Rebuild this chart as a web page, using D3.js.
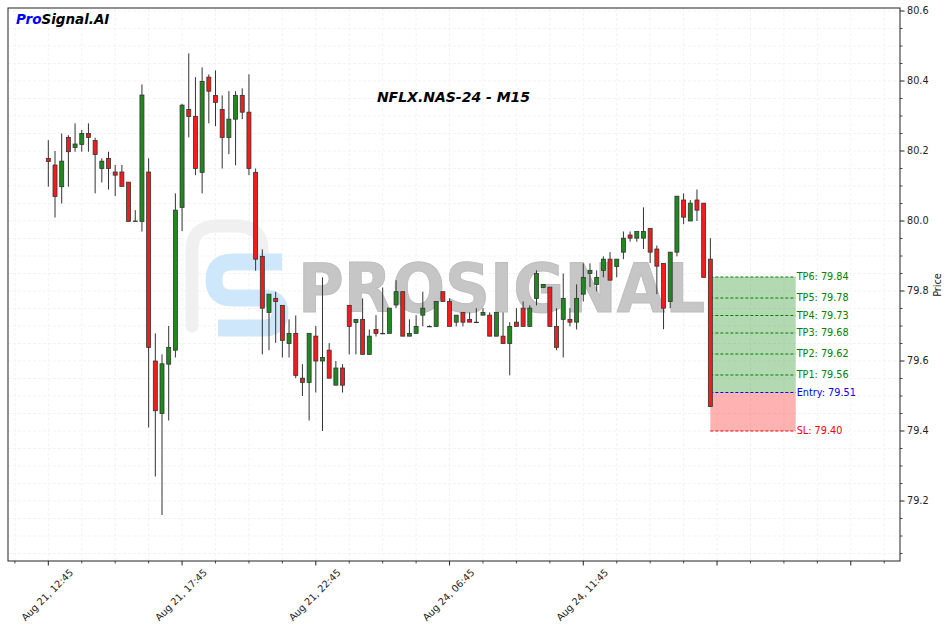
<!DOCTYPE html>
<html>
<head>
<meta charset="utf-8">
<script src="https://cdn.jsdelivr.net/npm/d3@7"></script>
<style>
  html, body { margin: 0; padding: 0; background: #fff; }
  svg { display: block; font-family: "DejaVu Sans", sans-serif; }
</style>
</head>
<body>
<svg id="chart" width="950" height="632"></svg>
<script>
// ---------------- DATA ----------------
const opens  = [80.179,80.160,80.098,80.239,80.210,80.219,80.250,80.230,80.150,80.179,
                80.140,80.140,80.111,80.000,79.999,80.140,79.600,79.450,79.591,79.631,
                80.039,80.319,80.299,80.139,80.411,80.359,80.319,80.239,80.291,80.359,
                80.311,80.139,79.899,79.739,79.779,79.759,79.650,79.679,79.551,79.539,
                79.671,79.600,79.631,79.531,79.580,79.759,79.710,79.719,79.619,79.690,
                79.679,79.679,79.760,79.798,79.671,79.679,79.731,79.699,79.699,79.798,
                79.770,79.711,79.739,79.719,79.711,79.731,79.731,79.671,79.671,79.650,
                79.711,79.751,79.699,79.779,79.810,79.811,79.699,79.719,79.719,79.711,
                79.791,79.850,79.819,79.859,79.891,79.870,79.911,79.960,79.951,79.951,
                79.979,79.920,79.879,79.770,79.911,80.060,80.000,80.060,80.051,79.891];
const highs  = [80.231,80.200,80.250,80.245,80.279,80.260,80.279,80.238,80.179,80.198,
                80.160,80.160,80.111,80.031,80.390,80.179,79.679,79.619,79.700,80.079,
                80.335,80.479,80.411,80.439,80.419,80.430,80.359,80.371,80.371,80.379,
                80.419,80.150,79.919,79.791,79.798,79.759,79.719,79.730,79.591,79.679,
                79.700,79.839,79.651,79.600,79.591,79.759,79.719,79.779,79.690,79.731,
                79.810,79.751,79.831,79.798,79.719,79.731,79.798,79.702,79.770,79.798,
                79.779,79.731,79.739,79.739,79.751,79.751,79.739,79.739,79.739,79.711,
                79.751,79.770,79.759,79.859,79.819,79.811,79.751,79.850,79.751,79.819,
                79.879,79.879,79.859,79.899,79.911,79.891,79.970,79.970,79.970,80.039,
                79.979,79.930,79.879,79.911,80.071,80.079,80.060,80.090,80.051,79.951];
const lows   = [80.098,80.010,80.050,80.098,80.198,80.198,80.198,80.079,80.110,80.090,
                80.071,80.099,79.999,80.000,79.970,79.410,79.270,79.160,79.430,79.610,
                79.971,80.239,80.131,80.079,80.279,80.271,80.150,80.191,80.159,80.291,
                80.131,79.858,79.619,79.631,79.652,79.610,79.610,79.551,79.500,79.430,
                79.510,79.400,79.551,79.531,79.510,79.619,79.619,79.619,79.619,79.670,
                79.679,79.679,79.751,79.671,79.671,79.679,79.699,79.699,79.699,79.770,
                79.699,79.699,79.699,79.711,79.711,79.731,79.671,79.671,79.650,79.559,
                79.699,79.699,79.699,79.759,79.810,79.699,79.631,79.610,79.699,79.690,
                79.770,79.811,79.799,79.839,79.831,79.839,79.891,79.941,79.941,79.920,
                79.880,79.791,79.691,79.751,79.899,79.991,80.000,80.000,79.839,79.470];
const closes = [80.170,80.070,80.171,80.198,80.220,80.250,80.239,80.190,80.171,80.150,
                80.131,80.099,79.999,80.000,80.360,79.639,79.458,79.592,79.639,80.031,
                80.331,80.299,80.150,80.399,80.371,80.339,80.239,80.291,80.359,80.311,
                80.150,79.891,79.751,79.791,79.770,79.659,79.679,79.559,79.539,79.679,
                79.600,79.610,79.551,79.580,79.531,79.699,79.719,79.619,79.671,79.679,
                79.679,79.751,79.798,79.671,79.679,79.699,79.751,79.699,79.770,79.770,
                79.699,79.731,79.711,79.711,79.711,79.739,79.671,79.739,79.650,79.699,
                79.699,79.699,79.751,79.850,79.819,79.699,79.639,79.779,79.711,79.779,
                79.839,79.859,79.839,79.891,79.831,79.891,79.951,79.951,79.970,79.970,
                79.911,79.871,79.751,79.911,80.071,80.011,80.051,80.031,79.839,79.470];

const xTickIndex  = [0, 20, 40, 60, 80, 100, 120];
const xTickLabels = ["Aug 21, 12:45", "Aug 21, 17:45", "Aug 21, 22:45", "Aug 24, 06:45", "Aug 24, 11:45", "", ""];
const yTicks      = [79.2, 79.4, 79.6, 79.8, 80.0, 80.2, 80.4, 80.6];

const tradeNames  = ["TP6", "TP5", "TP4", "TP3", "TP2", "TP1"];
const tradeLevels = [79.84, 79.78, 79.73, 79.68, 79.62, 79.56];
const entryPrice  = 79.51;
const stopLoss    = 79.40;
const zoneStart   = 99;
const zoneEnd     = 111.76;

const title = "NFLX.NAS-24 - M15";

// ---------------- LAYOUT ----------------
const svg = d3.select("#chart");
const L = 8, R = 900, T = 8, B = 561;
const x = d3.scaleLinear().domain([-6.03, 127.36]).range([L, R]);
const y = d3.scaleLinear().domain([79.0286, 80.6086]).range([B, T]);

svg.append("defs").append("clipPath").attr("id", "plotclip")
  .append("rect").attr("x", L).attr("y", T).attr("width", R - L).attr("height", B - T);

// grid (minor + major)
const gx = d3.range(-5, 127, 5);
const gy = d3.range(79.05, 80.6001, 0.05);
const grid = svg.append("g").attr("clip-path", "url(#plotclip)");
grid.selectAll("line.gx").data(gx).join("line")
  .attr("x1", d => x(d)).attr("x2", d => x(d)).attr("y1", T).attr("y2", B)
  .attr("stroke", "#eeeeee").attr("stroke-width", 0.7).attr("stroke-dasharray", "3,2");
grid.selectAll("line.gy").data(gy).join("line")
  .attr("x1", L).attr("x2", R).attr("y1", d => y(d)).attr("y2", d => y(d))
  .attr("stroke", "#eeeeee").attr("stroke-width", 0.7).attr("stroke-dasharray", "3,2");

// watermark
const wm = svg.append("g");
wm.append("path")
  .attr("d", "M192 326 L192 250 Q192 226 218 226 L236 226 Q262 226 262 250 L262 262")
  .attr("fill", "none").attr("stroke", "#f0f0f0").attr("stroke-width", 13).attr("stroke-linecap", "round");
wm.append("path")
  .attr("d", "M282 262 L232 262 Q214 262 214 280 Q214 298 232 298 L264 298 Q280 298 280 313 Q280 328 264 328 L218 328")
  .attr("fill", "none").attr("stroke", "#cfe7fb").attr("stroke-width", 17);
wm.append("text").attr("x", 298).attr("y", 312)
  .attr("font-size", 68).attr("font-weight", "bold").attr("fill", "#c6c6c6")
  .attr("stroke", "#bdbdbd").attr("stroke-width", 1)
  .attr("textLength", 407).attr("lengthAdjust", "spacingAndGlyphs").text("PROSIGNAL");

// trade zone
const zx0 = x(zoneStart), zx1 = x(zoneEnd);
svg.append("rect").attr("x", zx0).attr("width", zx1 - zx0)
  .attr("y", y(tradeLevels[0])).attr("height", y(entryPrice) - y(tradeLevels[0]))
  .attr("fill", "rgba(0,128,0,0.3)");
svg.append("rect").attr("x", zx0).attr("width", zx1 - zx0)
  .attr("y", y(entryPrice)).attr("height", y(stopLoss) - y(entryPrice))
  .attr("fill", "rgba(255,0,0,0.3)");

const levels = tradeNames.map((n, i) => ({ label: `${n}: ${tradeLevels[i].toFixed(2)}`, v: tradeLevels[i], c: "green" }))
  .concat([{ label: `Entry: ${entryPrice.toFixed(2)}`, v: entryPrice, c: "blue" },
           { label: `SL: ${stopLoss.toFixed(2)}`, v: stopLoss, c: "red" }]);
const lv = svg.append("g");
lv.selectAll("line").data(levels).join("line")
  .attr("x1", zx0).attr("x2", zx1).attr("y1", d => y(d.v)).attr("y2", d => y(d.v))
  .attr("stroke", d => d.c).attr("stroke-width", 1).attr("stroke-dasharray", "3,2");
lv.selectAll("text").data(levels).join("text")
  .attr("x", zx1 + 1).attr("y", d => y(d.v)).attr("dy", "0.35em")
  .attr("font-size", 9.7).attr("fill", d => d.c).text(d => d.label);

// candles
const candles = opens.map((o, i) => ({ i, o, h: highs[i], l: lows[i], c: closes[i] }));
const bw = 4.0;
const cg = svg.append("g").attr("clip-path", "url(#plotclip)");
cg.selectAll("line.wick").data(candles).join("line")
  .attr("x1", d => x(d.i)).attr("x2", d => x(d.i))
  .attr("y1", d => y(d.h)).attr("y2", d => y(d.l))
  .attr("stroke", "#333").attr("stroke-width", 1);
cg.selectAll("rect.body").data(candles).join("rect")
  .attr("x", d => x(d.i) - bw / 2).attr("width", bw)
  .attr("y", d => y(Math.max(d.o, d.c)))
  .attr("height", d => Math.max(0.5, Math.abs(y(d.o) - y(d.c))))
  .attr("fill", d => d.c >= d.o ? "#1e8a1e" : "#f21c1c")
  .attr("stroke", "#333").attr("stroke-width", 0.8);

// frame
svg.append("rect").attr("x", L).attr("y", T).attr("width", R - L).attr("height", B - T)
  .attr("fill", "none").attr("stroke", "#222").attr("stroke-width", 1);

// x axis
const xa = svg.append("g");
xa.selectAll("line.minor").data(gx.filter(d => d % 20 !== 0)).join("line")
  .attr("x1", d => x(d)).attr("x2", d => x(d)).attr("y1", B).attr("y2", B + 2.5)
  .attr("stroke", "#222").attr("stroke-width", 0.8);
xa.selectAll("line.major").data(xTickIndex).join("line")
  .attr("x1", d => x(d)).attr("x2", d => x(d)).attr("y1", B).attr("y2", B + 4.5)
  .attr("stroke", "#222").attr("stroke-width", 1);
xa.selectAll("text").data(xTickIndex.map((d, i) => ({ d, t: xTickLabels[i] })).filter(e => e.t)).join("text")
  .attr("transform", e => `translate(${x(e.d) - 1},${595}) rotate(-45)`)
  .attr("text-anchor", "middle").attr("dy", "0.35em")
  .attr("font-size", 9.7).attr("fill", "#222").text(e => e.t);

// y axis (right)
const ya = svg.append("g");
ya.selectAll("line.minor").data(gy.filter(v => !yTicks.some(t => Math.abs(t - v) < 1e-6))).join("line")
  .attr("x1", R).attr("x2", R + 2.5).attr("y1", d => y(d)).attr("y2", d => y(d))
  .attr("stroke", "#222").attr("stroke-width", 0.8);
ya.selectAll("line.major").data(yTicks).join("line")
  .attr("x1", R).attr("x2", R + 4.5).attr("y1", d => y(d)).attr("y2", d => y(d))
  .attr("stroke", "#222").attr("stroke-width", 1);
ya.selectAll("text").data(yTicks).join("text")
  .attr("x", R + 7).attr("y", d => y(d)).attr("dy", "0.35em")
  .attr("font-size", 9.7).attr("fill", "#222").text(d => d3.format(".1f")(d));
svg.append("text").attr("transform", "translate(941,285) rotate(-90)")
  .attr("text-anchor", "middle").attr("font-size", 9.7).attr("fill", "#222").text("Price");

// title
svg.append("text").attr("x", 453.5).attr("y", 102).attr("text-anchor", "middle")
  .attr("font-size", 14).attr("font-weight", "bold").attr("font-style", "italic")
  .attr("fill", "#000").text(title);

// brand
const brand = svg.append("text").attr("x", 16).attr("y", 24)
  .attr("font-size", 13.5).attr("font-weight", "bold").attr("font-style", "italic");
brand.append("tspan").attr("fill", "#0000ff").text("Pro");
brand.append("tspan").attr("fill", "#000").text("Signal.AI");
</script>
</body>
</html>
